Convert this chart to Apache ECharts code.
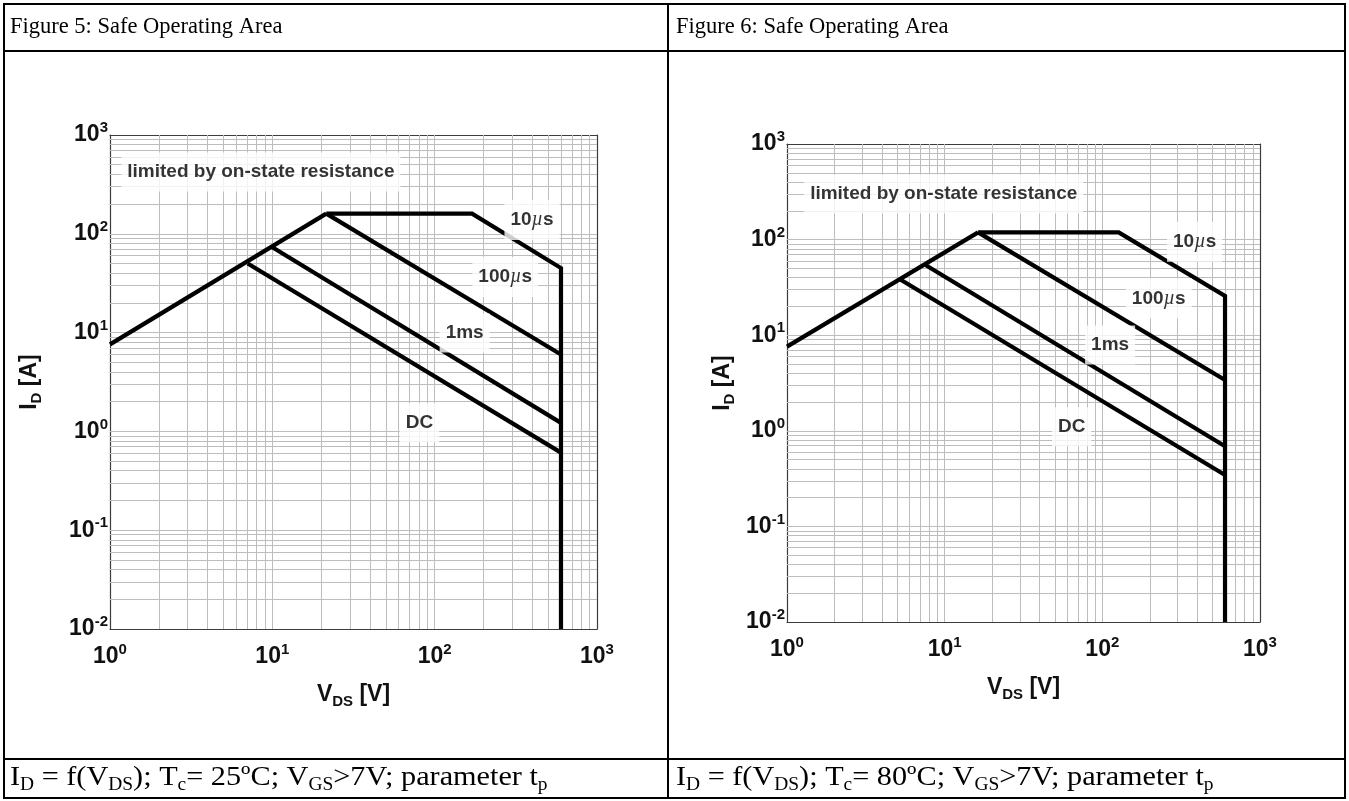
<!DOCTYPE html>
<html>
<head>
<meta charset="utf-8">
<title>Safe Operating Area</title>
<script src="https://cdn.jsdelivr.net/npm/echarts@6/dist/echarts.min.js"></script>
<style>
html, body { margin: 0; padding: 0; background: #fff; }
#chart { width: 1349px; height: 801px; }
</style>
</head>
<body>
<div id="chart"></div>
<script>
// ---- axis ranges (log scales) ----
const vdsRange = [1, 1000];
const idRange = [0.01, 1000];
const gridMantissas = [1, 2, 3, 4, 5, 6, 7, 8, 9];

// ---- Figure 5 (Tc = 25 °C): SOA boundaries as [V_DS (V), I_D (A)] ----
const fig5Rds    = [[1, 7.6], [21.5, 160]];
const fig5T10us  = [[21.5, 160], [170, 160], [600, 45], [600, 0.01]];
const fig5T100us = [[21.5, 160], [600, 6.0]];
const fig5T1ms   = [[10, 73], [600, 1.22]];
const fig5Dc     = [[7.05, 50], [600, 0.61]];
// curve labels: [V_DS, I_D, text]
const fig5Labels = [
  [8.5, 422, 'limited by on-state resistance'],
  [398, 138, '10µs'],
  [272, 36.6, '100µs'],
  [153, 9.9, '1ms'],
  [80.7, 1.22, 'DC']
];

// ---- Figure 6 (Tc = 80 °C) ----
const fig6Rds    = [[1, 7.6], [16.3, 119]];
const fig6T10us  = [[16.3, 119], [127, 119], [600, 25.7], [600, 0.01]];
const fig6T100us = [[16.3, 119], [600, 3.4]];
const fig6T1ms   = [[7.6, 54], [600, 0.69]];
const fig6Dc     = [[5.2, 38.5], [600, 0.345]];
const fig6Labels = [
  [9.86, 300, 'limited by on-state resistance'],
  [385, 95, '10µs'],
  [228, 24.3, '100µs'],
  [112, 7.9, '1ms'],
  [63.9, 1.10, 'DC']
];

// ---- table texts ----
const headerTexts = ['Figure 5: Safe Operating Area', 'Figure 6: Safe Operating Area'];
const caseTemps = ['25', '80'];

const SANS = '"Liberation Sans", Arial, Helvetica, sans-serif';
const SERIF = '"Liberation Serif", "Times New Roman", serif';
const AXIS_COLOR = '#3c3c3c';
const GRID_COLOR = '#bdbdbd';

function gridValues(range) {
  const out = [];
  const e0 = Math.round(Math.log10(range[0]));
  const e1 = Math.round(Math.log10(range[1]));
  for (let e = e0; e < e1; e++) {
    gridMantissas.forEach(m => {
      const v = +(m * Math.pow(10, e)).toPrecision(6);
      if (v > range[0]) out.push(v);
    });
  }
  return out;
}

const tickRich = {
  b: { fontFamily: SANS, fontWeight: 'bold', fontSize: 23, color: '#111', lineHeight: 29 },
  s: { fontFamily: SANS, fontWeight: 'bold', fontSize: 15, color: '#111', lineHeight: 15, verticalAlign: 'top' }
};
function powLabel(v) {
  const e = Math.round(Math.log10(v));
  return '{b|10}{s|' + e + '}';
}
const nameRich = {
  t: { fontFamily: SANS, fontWeight: 'bold', fontSize: 23, color: '#111', lineHeight: 28 },
  sub: { fontFamily: SANS, fontWeight: 'bold', fontSize: 15, color: '#111', lineHeight: 15, verticalAlign: 'bottom' }
};

function makeAxes(gi, yGap) {
  const common = {
    type: 'log', logBase: 10, gridIndex: gi,
    axisLine: { show: true, lineStyle: { color: AXIS_COLOR, width: 1.2 } },
    axisTick: { show: true, inside: true, length: 6, lineStyle: { color: AXIS_COLOR, width: 1 } },
    minorTick: { show: true, splitNumber: 9, length: 3, lineStyle: { color: AXIS_COLOR, width: 1 } },
    splitLine: { show: false },
    minorSplitLine: { show: false }
  };
  const xs = [
    Object.assign({}, common, {
      min: vdsRange[0], max: vdsRange[1], position: 'bottom',
      axisLabel: { margin: 13, formatter: powLabel, rich: tickRich },
      name: '{t|V}{sub|DS}{t| [V]}', nameLocation: 'middle', nameGap: 52,
      nameTextStyle: { rich: nameRich }
    }),
    Object.assign({}, common, {
      min: vdsRange[0], max: vdsRange[1], position: 'top', axisLabel: { show: false }
    })
  ];
  const ys = [
    Object.assign({}, common, {
      min: idRange[0], max: idRange[1], position: 'left',
      axisLabel: { margin: 2, formatter: powLabel, rich: tickRich },
      name: '{t|I}{sub|D}{t| [A]}', nameLocation: 'middle', nameGap: yGap, nameRotate: 90,
      nameTextStyle: { rich: nameRich }
    }),
    Object.assign({}, common, {
      min: idRange[0], max: idRange[1], position: 'right', axisLabel: { show: false }
    })
  ];
  return { xs, ys };
}

function labelFormatter(p) {
  // plain runs in bold sans, the micro sign as an italic serif glyph
  return p.data.text.split(/(µ)/).filter(s => s.length)
    .map(s => s === 'µ' ? '{mu|µ}' : '{n|' + s + '}').join('');
}

function panelSeries(gi, curves, labels) {
  const xi = gi * 2, yi = gi * 2;
  const out = [];
  // background grid (every 1..9 per decade)
  out.push({
    type: 'line', xAxisIndex: xi, yAxisIndex: yi, data: [[1, 1]],
    symbol: 'none', lineStyle: { opacity: 0 }, silent: true, z: 1,
    markLine: {
      silent: true, symbol: ['none', 'none'], animation: false,
      label: { show: false },
      lineStyle: { color: GRID_COLOR, width: 1, type: 'solid' },
      emphasis: { disabled: true },
      data: gridValues(vdsRange).map(v => ({ xAxis: v }))
        .concat(gridValues(idRange).map(v => ({ yAxis: v })))
    }
  });
  curves.forEach(c => {
    out.push({
      type: 'line', name: c.name, xAxisIndex: xi, yAxisIndex: yi, data: c.data,
      symbol: 'none', silent: true, z: 5,
      lineStyle: { color: '#000', width: 4.2, join: 'miter', cap: 'butt' }
    });
  });
  out.push({
    type: 'scatter', xAxisIndex: xi, yAxisIndex: yi, z: 6, silent: true,
    symbol: 'circle', symbolSize: 2, itemStyle: { color: 'rgba(0,0,0,0)' },
    data: labels.map(l => ({ value: [l[0], l[1]], text: l[2] })),
    label: {
      show: true, position: 'inside', color: '#000',
      backgroundColor: '#fff', padding: [10, 6],
      formatter: labelFormatter,
      rich: {
        n: { fontFamily: SANS, fontWeight: 'bold', fontSize: 19, color: '#000' },
        mu: { fontFamily: SERIF, fontStyle: 'italic', fontSize: 20, color: '#000' }
      }
    }
  });
  return out;
}

const left = makeAxes(0, 66);
const right = makeAxes(1, 50);
right.xs.forEach(a => { a.gridIndex = 1; });
right.ys.forEach(a => { a.gridIndex = 1; });

const captionRich = {
  n: { fontFamily: SERIF, fontSize: 28, color: '#000', lineHeight: 32 },
  s: { fontFamily: SERIF, fontSize: 18, color: '#000', lineHeight: 22, verticalAlign: 'bottom' }
};
function captionText(t) {
  return '{n|I}{s|D}{n| = f(V}{s|DS}{n|); T}{s|c}{n|= ' + t + 'ºC; V}{s|GS}{n|>7V; parameter t}{s|p}';
}

const curves5 = [
  { name: 'R_DS(on) limit', data: fig5Rds },
  { name: '10 µs', data: fig5T10us },
  { name: '100 µs', data: fig5T100us },
  { name: '1 ms', data: fig5T1ms },
  { name: 'DC', data: fig5Dc }
];
const curves6 = [
  { name: 'R_DS(on) limit', data: fig6Rds },
  { name: '10 µs', data: fig6T10us },
  { name: '100 µs', data: fig6T100us },
  { name: '1 ms', data: fig6T1ms },
  { name: 'DC', data: fig6Dc }
];

const option = {
  animation: false,
  backgroundColor: '#fff',
  grid: [
    { left: 110, top: 135, width: 487, height: 494 },
    { left: 787, top: 144, width: 473, height: 478 }
  ],
  xAxis: left.xs.concat(right.xs),
  yAxis: left.ys.concat(right.ys),
  series: panelSeries(0, curves5, fig5Labels).concat(panelSeries(1, curves6, fig6Labels)),
  graphic: [
    // table frame
    { type: 'rect', shape: { x: 4, y: 4, width: 1341, height: 794 }, style: { fill: 'none', stroke: '#000', lineWidth: 2 }, silent: true },
    { type: 'line', shape: { x1: 4, y1: 51, x2: 1345, y2: 51 }, style: { stroke: '#000', lineWidth: 2 }, silent: true },
    { type: 'line', shape: { x1: 4, y1: 759, x2: 1345, y2: 759 }, style: { stroke: '#000', lineWidth: 2 }, silent: true },
    { type: 'line', shape: { x1: 668, y1: 4, x2: 668, y2: 798 }, style: { stroke: '#000', lineWidth: 2 }, silent: true },
    // headers
    { type: 'text', x: 10, y: 27, style: { text: headerTexts[0], font: '22.5px ' + SERIF, fill: '#000', verticalAlign: 'middle' }, silent: true },
    { type: 'text', x: 676, y: 27, style: { text: headerTexts[1], font: '22.5px ' + SERIF, fill: '#000', verticalAlign: 'middle' }, silent: true },
    // captions
    { type: 'text', x: 10, y: 778, scaleX: 1.08, style: { text: captionText(caseTemps[0]), rich: captionRich, verticalAlign: 'middle' }, silent: true },
    { type: 'text', x: 676, y: 778, scaleX: 1.08, style: { text: captionText(caseTemps[1]), rich: captionRich, verticalAlign: 'middle' }, silent: true }
  ]
};

// the second panel's series use the second pair of x/y axes
const half = option.series.length / 2;
option.series.forEach((s, i) => {
  if (i >= half) { s.xAxisIndex = 2; s.yAxisIndex = 2; }
});

const chart = echarts.init(document.getElementById('chart'), null, { renderer: 'canvas' });
chart.setOption(option);
</script>
</body>
</html>
